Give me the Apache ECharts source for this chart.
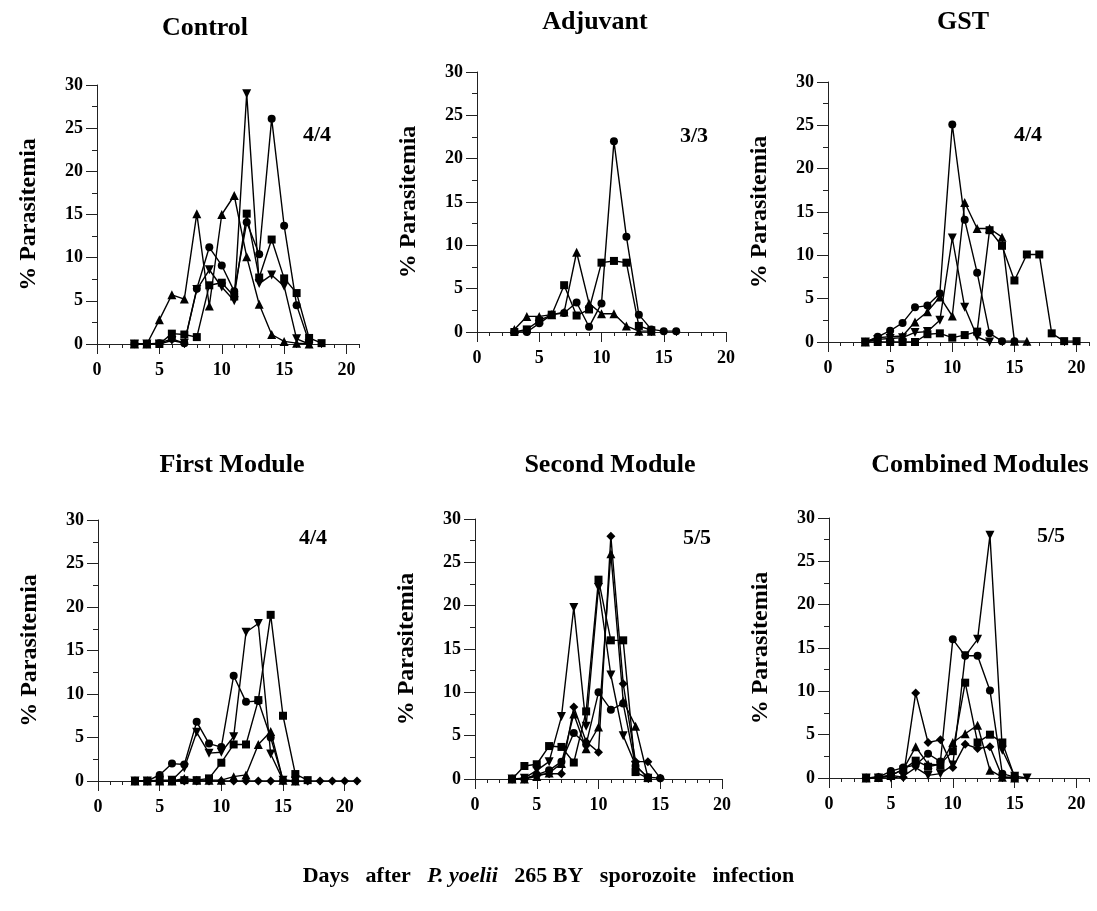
<!DOCTYPE html>
<html>
<head>
<meta charset="utf-8">
<title>Parasitemia after P. yoelii infection</title>
<script src="https://cdn.jsdelivr.net/npm/echarts@6/dist/echarts.min.js"></script>
<style>
  html, body { margin: 0; padding: 0; background: #fff; }
  #chart { width: 1097px; height: 911px; }
</style>
</head>
<body>
<div id="chart"></div>
<script>
// days after infection (first sample on day 3)
const days = [3, 4, 5, 6, 7, 8, 9, 10, 11, 12, 13, 14, 15, 16, 17, 18, 19, 20, 21];
const yTicks = [0, 5, 10, 15, 20, 25, 30];
const xTicks = [0, 5, 10, 15, 20];

// Control
const controlTriUp   = [0, 0, 2.8, 5.7, 5.2, 15.1, 4.4, 15.0, 17.2, 10.1, 4.6, 1.1, 0.3, 0.1, 0];
const controlTriDown = [0, 0, 0, 0.4, 0.1, 6.3, 8.6, 6.6, 5.0, 29.0, 7.0, 8.0, 6.7, 0.6, 0];
const controlCircle  = [0, 0, 0.1, 0.6, 0.1, 6.4, 11.2, 9.1, 6.1, 14.1, 10.4, 26.1, 13.7, 4.5, 0.2];
const controlSquare  = [0, 0, 0, 1.2, 1.1, 0.8, 6.8, 7.1, 5.5, 15.1, 7.7, 12.1, 7.6, 5.9, 0.7, 0.1];

// Adjuvant
const adjCircle   = [0, 0, 1.0, 2.0, 2.2, 3.4, 0.6, 3.3, 22.0, 11.0, 2.0, 0.3, 0.1, 0.1];
const adjSquare   = [0, 0.3, 1.3, 2.0, 5.4, 1.9, 2.6, 8.0, 8.2, 8.0, 0.7, 0.2];
const adjTriangle = [0.3, 1.8, 1.8, 2.0, 2.3, 9.2, 3.3, 2.1, 2.1, 0.7, 0.1, 0.1];

// GST
const gstCircle  = [0, 0.6, 1.3, 2.2, 4.0, 4.2, 5.6, 25.1, 14.1, 8.0, 1.0, 0.1, 0.1];
const gstTriUp   = [0, 0.5, 0.6, 0.7, 2.3, 3.5, 5.2, 3.0, 16.1, 13.1, 13.1, 12.1, 0.1, 0.1];
const gstTriDown = [0, 0.3, 0.4, 0.5, 1.1, 1.2, 2.5, 12.0, 4.0, 0.6, 0];
const gstSquare  = [0, 0, 0, 0, 0, 0.9, 1.0, 0.5, 0.8, 1.2, 12.9, 11.1, 7.1, 10.1, 10.1, 1.0, 0.1, 0.1];

// First Module
const firstCircle  = [0, 0, 0.7, 2.0, 1.9, 6.8, 4.3, 3.9, 12.1, 9.1, 9.2, 5.0, 0.1, 0];
const firstTriDown = [0, 0, 0.1, 0.1, 1.5, 5.6, 3.2, 3.3, 5.1, 17.1, 18.1, 3.1, 0.1, 0];
const firstSquare  = [0, 0, 0, 0, 0.1, 0.1, 0.3, 2.1, 4.2, 4.2, 9.3, 19.1, 7.5, 0.8, 0.1];
const firstTriUp   = [0, 0, 0, 0, 0.3, 0.1, 0.1, 0.1, 0.5, 0.7, 4.2, 5.7, 0.1, 0];
const firstDiamond = [0, 0, 0, 0, 0, 0, 0, 0, 0, 0, 0, 0, 0, 0, 0, 0, 0, 0, 0];

// Second Module
const secondTriDown = [0, 0.1, 1.0, 2.0, 7.2, 19.8, 6.1, 22.1, 12.0, 5.0, 1.6, 0.1];
const secondSquare  = [0, 1.5, 1.7, 3.8, 3.7, 1.9, 7.8, 23.0, 16.0, 16.0, 0.8, 0.1];
const secondDiamond = [0, 0, 0.5, 0.6, 0.6, 8.3, 4.3, 3.1, 28.0, 11.0, 2.0, 2.0, 0.1];
const secondCircle  = [0, 0, 0.5, 1.0, 2.0, 5.3, 4.0, 10.0, 8.0, 8.7, 1.5, 0.2, 0.1];
const secondTriUp   = [0, 0, 0.3, 0.7, 1.8, 7.5, 3.5, 6.0, 26.0, 9.0, 6.1, 0.2];

// Combined Modules
const combTriDown = [0, 0, 0, 0.2, 1.2, 0.3, 0.5, 1.5, 14.1, 16.0, 28.0, 3.2, 0.2, 0];
const combCircle  = [0, 0.1, 0.8, 1.2, 1.5, 2.8, 1.9, 16.0, 14.1, 14.1, 10.1, 0.5, 0.1];
const combDiamond = [0, 0.1, 0.3, 0.1, 9.8, 4.1, 4.4, 1.2, 3.9, 3.4, 3.6, 0.1, 0.1];
const combSquare  = [0, 0, 0.3, 1.0, 2.0, 1.3, 1.6, 3.1, 11.0, 4.1, 5.0, 4.1, 0.1];
const combTriUp   = [0, 0.1, 0.3, 1.0, 3.6, 1.6, 1.5, 4.1, 5.1, 6.1, 0.9, 0.1, 0];

const FONT = '"Liberation Serif", "Times New Roman", serif';

// marker shapes
const M = {
    circle: { symbol: 'circle', rotate: 0, size: 8 },
    square: { symbol: 'rect', rotate: 0, size: 8 },
    up: { symbol: 'triangle', rotate: 0, size: 9 },
    down: { symbol: 'triangle', rotate: 180, size: 9 },
    diamond: { symbol: 'diamond', rotate: 0, size: 9 }
};

const panels = [
    { title: 'Control', frac: '4/4', grid: { left: 97, top: 85, width: 262, height: 259 }, xMax: 21,
      titlePos: [205, 28], fracPos: [317, 135],
      lines: [[controlTriUp, 'up'], [controlTriDown, 'down'], [controlCircle, 'circle'], [controlSquare, 'square']] },
    { title: 'Adjuvant', frac: '3/3', grid: { left: 477, top: 72, width: 249, height: 260 }, xMax: 20,
      titlePos: [595, 22], fracPos: [694, 136],
      lines: [[adjCircle, 'circle'], [adjSquare, 'square'], [adjTriangle, 'up']] },
    { title: 'GST', frac: '4/4', grid: { left: 828, top: 82, width: 261, height: 260 }, xMax: 21,
      titlePos: [963, 22], fracPos: [1028, 135],
      lines: [[gstCircle, 'circle'], [gstTriUp, 'up'], [gstTriDown, 'down'], [gstSquare, 'square']] },
    { title: 'First Module', frac: '4/4', grid: { left: 98, top: 520, width: 259, height: 261 }, xMax: 21,
      titlePos: [232, 465], fracPos: [313, 538],
      lines: [[firstCircle, 'circle'], [firstTriDown, 'down'], [firstSquare, 'square'], [firstTriUp, 'up'], [firstDiamond, 'diamond']] },
    { title: 'Second Module', frac: '5/5', grid: { left: 475, top: 519, width: 247, height: 260 }, xMax: 20,
      titlePos: [610, 465], fracPos: [697, 538],
      lines: [[secondTriDown, 'down'], [secondSquare, 'square'], [secondDiamond, 'diamond'], [secondCircle, 'circle'], [secondTriUp, 'up']] },
    { title: 'Combined Modules', frac: '5/5', grid: { left: 829, top: 518, width: 260, height: 260 }, xMax: 21,
      titlePos: [980, 465], fracPos: [1051, 536],
      lines: [[combTriDown, 'down'], [combCircle, 'circle'], [combDiamond, 'diamond'], [combSquare, 'square'], [combTriUp, 'up']] }
];

const labelStyle = { color: '#000', fontFamily: FONT, fontWeight: 'bold', fontSize: 18 };
const axisLine = { show: true, lineStyle: { color: '#222', width: 1 } };

const grids = [];
const xAxes = [];
const yAxes = [];
const series = [];
const graphics = [];

panels.forEach((p, i) => {
    grids.push(p.grid);

    // day axis with one small tick per day
    xAxes.push({
        type: 'value', gridIndex: i, min: 0, max: p.xMax, interval: 1,
        axisLine: axisLine,
        axisTick: { show: true, length: 4, lineStyle: { color: '#222' } },
        axisLabel: { ...labelStyle, margin: 17, formatter: v => (xTicks.includes(v) ? String(v) : '') },
        splitLine: { show: false }
    });
    // longer ticks every 5 days
    xAxes.push({
        type: 'value', gridIndex: i, min: 0, max: p.xMax, position: 'bottom',
        axisLine: { show: false },
        axisTick: { show: true, length: 10, customValues: xTicks, lineStyle: { color: '#222' } },
        axisLabel: { show: false },
        splitLine: { show: false }
    });

    yAxes.push({
        type: 'value', gridIndex: i, min: 0, max: 30, interval: 5,
        axisLine: axisLine,
        axisTick: { show: true, length: 11, lineStyle: { color: '#222' } },
        minorTick: { show: true, splitNumber: 2, length: 5, lineStyle: { color: '#222' } },
        axisLabel: { ...labelStyle, margin: 14, formatter: v => (yTicks.includes(v) ? String(v) : '') },
        splitLine: { show: false },
        minorSplitLine: { show: false },
        name: '% Parasitemia', nameLocation: 'middle', nameGap: 56, nameRotate: 90,
        nameTextStyle: { color: '#000', fontFamily: FONT, fontWeight: 'bold', fontSize: 24 }
    });

    p.lines.forEach(([vals, shape]) => {
        const m = M[shape];
        series.push({
            type: 'line', xAxisIndex: i * 2, yAxisIndex: i,
            data: vals.map((v, k) => [days[k], v]),
            symbol: m.symbol, symbolRotate: m.rotate, symbolSize: m.size,
            showAllSymbol: true,
            lineStyle: { color: '#000', width: 1.4 },
            itemStyle: { color: '#000' },
            emphasis: { disabled: true },
            animation: false
        });
    });

    graphics.push({
        type: 'text', x: p.titlePos[0], y: p.titlePos[1],
        style: { text: p.title, font: 'bold 26px ' + FONT, fill: '#000',
                 textAlign: 'center', textVerticalAlign: 'middle', align: 'center', verticalAlign: 'middle' }
    });
    graphics.push({
        type: 'text', x: p.fracPos[0], y: p.fracPos[1],
        style: { text: p.frac, font: 'bold 22px ' + FONT, fill: '#000',
                 textAlign: 'center', textVerticalAlign: 'middle', align: 'center', verticalAlign: 'middle' }
    });
});

const chart = echarts.init(document.getElementById('chart'), null, { renderer: 'canvas' });
chart.setOption({
    backgroundColor: '#fff',
    animation: false,
    title: {
        left: 'center', top: 860,
        text: '{n|Days   after   }{i|P. yoelii}{n|   265 BY   sporozoite   infection}',
        textStyle: {
            rich: {
                n: { fontFamily: FONT, fontWeight: 'bold', fontSize: 22, color: '#000' },
                i: { fontFamily: FONT, fontWeight: 'bold', fontStyle: 'italic', fontSize: 22, color: '#000' }
            }
        }
    },
    grid: grids,
    xAxis: xAxes,
    yAxis: yAxes,
    series: series,
    graphic: graphics
});
window.addEventListener('resize', () => chart.resize());
</script>
</body>
</html>
